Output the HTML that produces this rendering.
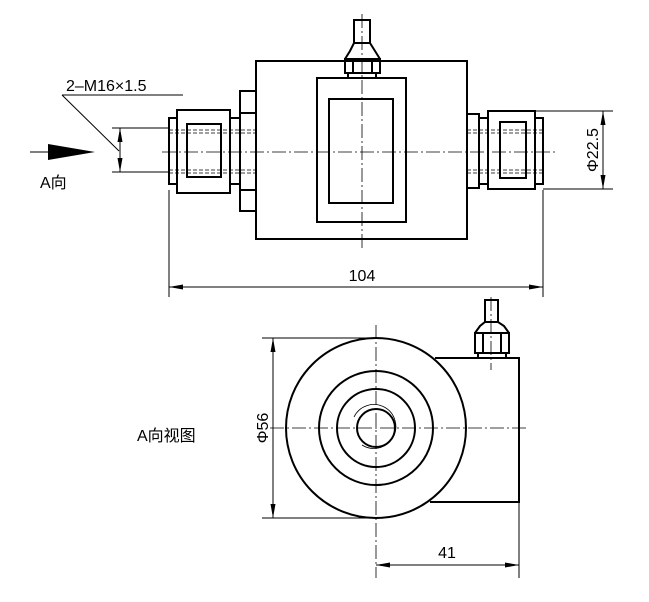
<!DOCTYPE html>
<html><head><meta charset="utf-8"><style>body{margin:0;background:#fff}svg{display:block}</style></head><body>
<svg width="649" height="602" viewBox="0 0 649 602" xmlns="http://www.w3.org/2000/svg" font-family="Liberation Sans, Noto Sans CJK SC, sans-serif">
<defs><marker id="a" viewBox="0 0 10 10" refX="10" refY="5" markerWidth="14" markerHeight="5" markerUnits="userSpaceOnUse" orient="auto-start-reverse" preserveAspectRatio="none"><path d="M0,0L10,5L0,10z" fill="#000"/></marker></defs>
<g fill="none" stroke="#000">
<!-- centerlines -->
<g stroke-width="0.8" stroke-dasharray="14,3,2,3">
<line x1="162" y1="152" x2="558" y2="152"/><line x1="362" y1="14" x2="362" y2="250"/>
<line x1="270" y1="428" x2="528" y2="428"/><line x1="376" y1="325" x2="376" y2="578"/>
<line x1="491" y1="297" x2="491" y2="370"/>
</g>
<g stroke-width="2">
<rect x="256" y="61" width="211" height="178"/>
<rect x="317" y="78" width="89" height="144"/>
<rect x="329" y="99" width="64" height="104"/>
<rect x="345" y="59" width="35" height="14"/><line x1="353" y1="59" x2="353" y2="73"/><line x1="372" y1="59" x2="372" y2="73"/>
<path d="M348,78V73M376,78V73M345,59L350,51L354,43H370L375,51L380,59"/><rect x="354" y="20" width="16" height="23"/>
<rect x="240" y="91" width="16" height="120"/><line x1="240" y1="113" x2="256" y2="113"/><line x1="240" y1="190" x2="256" y2="190"/>
<rect x="230" y="118" width="10" height="66"/>
<rect x="177" y="110" width="53" height="83"/>
<rect x="187" y="124" width="34" height="53"/>
<rect x="169" y="118" width="8" height="66"/>
<rect x="467" y="114" width="12" height="74"/>
<rect x="479" y="118" width="9" height="66"/>
<rect x="488" y="111" width="47" height="78"/>
<rect x="500" y="122" width="26" height="56"/>
<rect x="535" y="118" width="8" height="66"/>
<circle cx="376" cy="428" r="90"/><circle cx="376" cy="428" r="57"/><circle cx="376" cy="428" r="39"/><circle cx="376" cy="428" r="19"/>
<path d="M435,358H519V502H430"/>
<rect x="475" y="333" width="34" height="20"/><line x1="483" y1="333" x2="483" y2="353"/><line x1="501" y1="333" x2="501" y2="353"/>
<path d="M478,358V353M506,358V353M475,333L480,326L485,322H498L504,326L509,333"/><rect x="485" y="300" width="13" height="22"/>
</g>
<path d="M354,417A22,22 0 1 1 362,445" stroke-width="0.8"/>
<g stroke-width="0.8" stroke-dasharray="4,2">
<path d="M169,130H256M169,133H256M169,170H256M169,173H256M467,130H543M467,133H543M467,170H543M467,173H543"/>
</g>
<g stroke-width="1">
<path d="M112,128H170M112,172H170M62,95H183M62,95L119,151M30,152H50"/>
<line x1="120" y1="128" x2="120" y2="172" marker-start="url(#a)" marker-end="url(#a)"/>
<path d="M535,111H613M543,189H613"/>
<line x1="603" y1="111" x2="603" y2="189" marker-start="url(#a)" marker-end="url(#a)"/>
<path d="M169,190V297M543,190V297"/>
<line x1="169" y1="287" x2="543" y2="287" marker-start="url(#a)" marker-end="url(#a)"/>
<path d="M262,338H376M262,518H376M519,502V578"/>
<line x1="273" y1="338" x2="273" y2="518" marker-start="url(#a)" marker-end="url(#a)"/>
<line x1="376" y1="565" x2="519" y2="565" marker-start="url(#a)" marker-end="url(#a)"/>
</g>
</g>
<path d="M48,144L95,152L48,160z" fill="#000"/>
<g font-size="16" fill="#000">
<text x="66" y="91">2–M16×1.5</text>
<text x="40" y="188">A向</text>
<text x="362" y="281" text-anchor="middle">104</text>
<text x="447" y="558" text-anchor="middle">41</text>
<text x="137" y="441">A向视图</text>
<text transform="translate(598,150) rotate(-90)" text-anchor="middle">Φ22.5</text>
<text transform="translate(268,428) rotate(-90)" text-anchor="middle">Φ56</text>
</g>
</svg>
</body></html>
